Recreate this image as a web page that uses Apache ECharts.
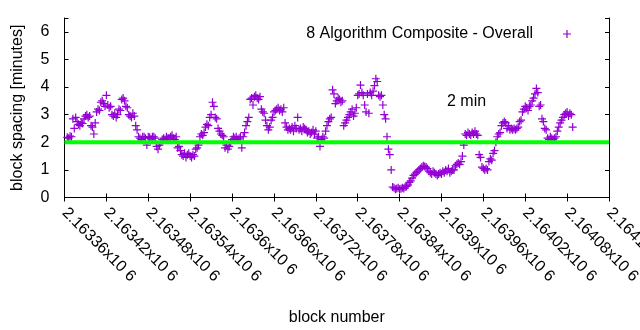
<!DOCTYPE html>
<html><head><meta charset="utf-8">
<script src="https://cdn.jsdelivr.net/npm/echarts@6/dist/echarts.min.js"></script>
<style>html,body{margin:0;padding:0;background:#fff}#c{width:640px;height:330px}</style>
</head><body><div id="c"></div>
<script>
const seriesName = '8 Algorithm Composite - Overall';
const blockStart = 2163364;
const blockStep = 2;
const spacing = [
2.18,2.15,2.22,2.2, 2.85,2.5,2.9, 2.75,2.65,2.6,2.7,2.68, 2.85,2.95,3.0,2.9,2.95,
2.6,2.55,2.3,2.7, 3.1,3.2,3.15, 3.45,3.5,3.4, 3.3,3.7,3.35,3.25,3.3,
3.0,2.95,3.05,2.9,3.0, 3.2,3.15, 3.55,3.6,3.5,3.3, 3.25, 3.0,2.95,2.9,3.05,2.95,
2.6,2.45, 2.2,2.15,2.1,2.2, 2.2,2.15,1.9,2.2,2.18,2.12,2.2, 2.2,2.15,
1.85,1.75,1.9,2.0, 2.1,2.15,2.1,2.2,2.15, 2.15,2.2,2.25,2.15,2.1,2.2,
1.8,1.85,1.7, 1.55,1.5,1.6,1.45,1.55,1.6,1.5,1.45,1.55,1.5, 1.75,1.8,1.9,
2.2,2.3,2.25,2.35, 2.55,2.65,2.6, 2.9,3.0, 3.45,3.3, 2.9,2.85,
2.5,2.4,2.3,2.25,2.2, 1.8,1.9,1.75,1.85,2.0, 2.1,2.2,2.15,2.2,2.1,2.15,2.2,
1.8,2.2, 2.35,2.6, 2.75,2.9, 3.55,3.6,3.35,3.65,3.7,3.6,3.55, 3.65,3.2,3.1,3.05,
2.8,2.6,2.45,2.55, 2.8,2.9, 3.1,3.15,3.2,3.25,3.15,3.2,3.1,3.25, 2.7,2.55,2.45,2.5,
2.45,2.55,2.4,2.6,2.5,2.9,2.45,2.5,2.4,2.55,2.5,2.45, 2.35,2.4,2.3,2.35,2.45,2.3,2.4,
2.15,2.2,1.85,2.1,2.2,2.15, 2.4,2.6,2.75,2.85, 2.9,3.9,3.75, 3.4,3.5,3.6,3.55,3.45,3.5,
2.6,2.7,2.8, 2.9,3.0,3.1,3.2,2.95,3.05,3.25, 3.7,3.75,4.07,3.8,3.7,
3.35,3.1,3.75,3.05,3.8,3.7,3.85,4.05,4.3,4.2, 3.7,3.65,3.7, 3.35,3.0,2.85,
2.2,1.75,1.55,1.0, 0.38,0.35,0.3,0.33,0.35,0.3,0.32,0.35,0.33,0.38,0.4,
0.45,0.55,0.6,0.7,0.8,0.85,0.9, 0.95,1.0,1.05,1.1, 1.15,1.12,1.1,1.05,
0.95,0.9,0.85,0.95,0.9,0.85,0.8,0.85,0.9,0.85, 0.95,0.9,1.0,0.95,1.05,0.9,0.95,1.0,1.0,
1.15,1.2,1.25,1.2,1.3, 1.5,1.9, 2.3,2.25,2.35,2.3,2.25,2.35,2.3,2.4,2.3,2.25,
1.55,1.45, 1.1,1.05,1.0,1.05, 1.0,1.3,1.4,1.35, 1.6,1.7, 2.0,2.2,2.3,2.35,
2.6,2.7,2.75,2.7, 2.5,2.6,2.45, 2.5,2.45,2.5,2.45,2.5,2.55, 2.75,2.8,
3.1,3.2,3.3,3.25,3.15,3.3,3.35, 3.5,3.6,3.75,3.95, 3.8,3.3,3.35, 2.85,2.75, 2.5,2.45,
2.15,2.1,2.2,2.15,2.1,2.15,2.2, 2.4,2.55,2.7, 2.8,2.9,3.0,3.05,3.1,2.95,3.05, 3.0,2.55
];
const thresholdValue = 2;
const thresholdLabel = '2 min';
const xMin = 2163360, xMax = 2164140, xInterval = 60;
const xTickLabels = ['2.16336x10 6','2.16342x10 6','2.16348x10 6','2.16354x10 6','2.1636x10 6',
  '2.16366x10 6','2.16372x10 6','2.16378x10 6','2.16384x10 6','2.1639x10 6','2.16396x10 6',
  '2.16402x10 6','2.16408x10 6','2.16414x10 6'];
const yTickLabels = ['0','1','2','3','4','5','6'];
const yMin = 0, yMax = 6.5;

const FONT = "'Liberation Sans', Arial, sans-serif";
const plus = 'path://M3.4,0h1.2v8h-1.2z M0,3.4h8v1.2h-8z';
const chart = echarts.init(document.getElementById('c'), null, {renderer: 'canvas'});
const xLab = v => { const k = Math.round((v - xMin) / xInterval); return (Math.abs(v - (xMin + k * xInterval)) < 1e-6 && xTickLabels[k]) ? xTickLabels[k] : ''; };
const yLab = v => Number.isInteger(v) && yTickLabels[v] !== undefined ? yTickLabels[v] : '';
const axisCommon = {
  axisLine: {show: true, lineStyle: {color: '#000', width: 1}},
  axisTick: {show: true, inside: true, length: 4, lineStyle: {color: '#000'}},
  splitLine: {show: false}
};
chart.setOption({
  animation: false,
  backgroundColor: '#fff',
  textStyle: {fontFamily: FONT},
  grid: {left: 64.5, right: 31, top: 18, bottom: 132.5, containLabel: false, outerBoundsMode: 'none'},
  legend: {
    data: [{name: seriesName, icon: plus}],
    right: 64, top: 21, align: 'right', itemWidth: 58, itemHeight: 8,
    textStyle: {fontSize: 16, color: '#000', fontFamily: FONT},
    selectedMode: false
  },
  xAxis: [
    Object.assign({type: 'value', position: 'bottom', min: xMin, max: xMax, interval: xInterval,
      name: 'block number', nameLocation: 'middle', nameGap: 112,
      nameTextStyle: {fontSize: 16, color: '#000', fontFamily: FONT},
      axisLabel: {rotate: -45, margin: 13, fontSize: 16, color: '#000', fontFamily: FONT,
        showMaxLabel: true, showMinLabel: true, hideOverlap: false, formatter: xLab}}, axisCommon),
    Object.assign({type: 'value', position: 'top', min: xMin, max: xMax, interval: xInterval,
      axisLabel: {show: false}}, axisCommon)
  ],
  yAxis: [
    Object.assign({type: 'value', position: 'left', min: yMin, max: yMax, interval: 1,
      name: 'block spacing [minutes]', nameLocation: 'middle', nameGap: 39,
      nameTextStyle: {fontSize: 16, color: '#000', fontFamily: FONT},
      axisLabel: {margin: 15, fontSize: 16, color: '#000', fontFamily: FONT, formatter: yLab}}, axisCommon),
    Object.assign({type: 'value', position: 'right', min: yMin, max: yMax, interval: 1,
      axisLabel: {show: false}}, axisCommon)
  ],
  graphic: [{type: 'text', left: 447, top: 94, silent: true,
    style: {text: thresholdLabel, fontSize: 16, fill: '#000', fontFamily: FONT}}],
  series: [
    {name: seriesName, type: 'scatter', symbol: plus, symbolSize: 8,
      itemStyle: {color: '#9400d3', opacity: 1},
      data: spacing.map((v, i) => [blockStart + i * blockStep, v]), z: 2, silent: true},
    {name: thresholdLabel, type: 'line', showSymbol: false, symbol: 'none',
      lineStyle: {color: '#00ff00', width: 4},
      data: [[xMin, thresholdValue], [xMax, thresholdValue]], z: 3, silent: true}
  ]
});
</script></body></html>
